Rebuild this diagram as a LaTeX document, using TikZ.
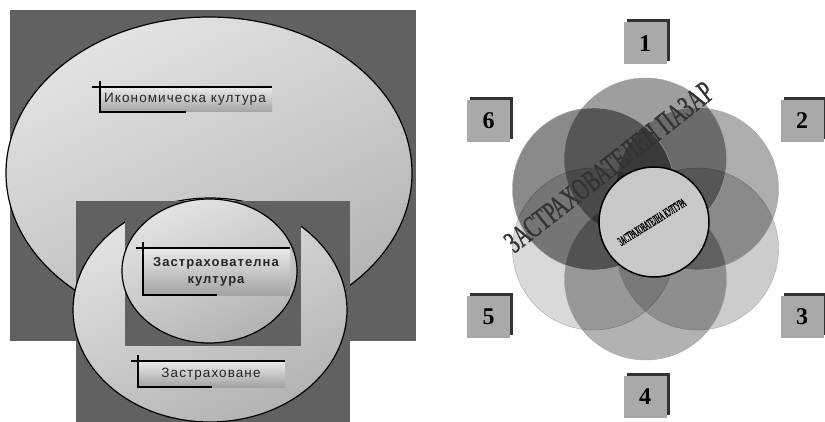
\documentclass[tikz,border=0pt]{standalone}
\usepackage{fontspec}
\setmainfont{Liberation Serif}
\newfontfamily\labelfont[LetterSpace=8]{Liberation Sans}
\newfontfamily\wordart[FakeBold=1.2]{Liberation Serif}
\newfontfamily\hubfont[FakeBold=2]{Liberation Serif}
\usetikzlibrary{shapes.geometric,shadows}
\definecolor{slate}{HTML}{616161}
\definecolor{numgray}{HTML}{A9A9A9}
\definecolor{hubgray}{HTML}{C8C8C8}
\tikzset{
  bubble/.style={ellipse, draw=black, line width=1.2pt, inner sep=0pt,
    top color=black!11, bottom color=black!30, shading angle=25},
  tagfill/.style={top color=black!8, bottom color=black!36},
  tagline/.style={draw=black, line width=1.2pt},
  tagtext/.style={font=\labelfont\fontsize{13.5}{16}\selectfont, text=black!85, inner sep=0pt},
  numbox/.style={fill=numgray, minimum width=43pt, minimum height=42pt, inner sep=0pt,
    font=\bfseries\fontsize{24}{24}\selectfont,
    drop shadow={shadow xshift=3pt, shadow yshift=3pt, opacity=1, fill=black!80}},
  petal/.style={circle, minimum size=162pt, inner sep=0pt, fill=black, draw=black!35, line width=0.4pt},
}
\begin{document}
\begin{tikzpicture}[x=1pt,y=-1pt]
\useasboundingbox (0,0) rectangle (825,422);

% ---- nested cultures ----
\fill[slate] (10,10) rectangle (416,341);
\node[bubble, minimum width=406pt, minimum height=312pt] (eco) at (209,173) {};
\fill[slate] (76,201) rectangle (350,422);
\node[bubble, minimum width=274pt, minimum height=224pt] (ins) at (210,310) {};
\fill[slate] (125,201) rectangle (301,346);
\node[bubble, minimum width=175pt, minimum height=144pt] (cult) at (209.5,271) {};

% label plates
\shade[tagfill] (100,87) rectangle (272,112);
\draw[tagline] (92,87) -- (272,87) (100,81) -- (100,112) -- (186,112);
\node[tagtext] (ecoL) at (185,99.5) {Икономическа култура};

\shade[tagfill] (143,248) rectangle (290,295);
\draw[tagline] (136,248) -- (290,248) (143,242) -- (143,295) -- (217,295);
\node[tagtext, font=\labelfont\bfseries\fontsize{13}{16.5}\selectfont, align=center] (cultL) at (216,272) {Застрахователна\\култура};

\shade[tagfill] (138,361) rectangle (285,387);
\draw[tagline] (131,361) -- (285,361) (138,355) -- (138,387) -- (212,387);
\node[tagtext] (insL) at (211,374) {Застраховане};

% ---- market flower ----
\node[petal, fill opacity=0.15] (p5) at (593.5,249) {};
\node[petal, fill opacity=0.20] (p3) at (697.5,249) {};
\node[petal, fill opacity=0.30] (p4) at (645.5,279) {};
\node[petal, fill opacity=0.32] (p2) at (697.5,189) {};
\node[petal, fill opacity=0.38] (p1) at (645.5,159) {};
\node[petal, fill opacity=0.46] (p6) at (593.5,189) {};

\node[rotate=38, text=black!80, inner sep=0pt] (market) at (609,167)
  {\scalebox{0.64}[1]{\wordart\fontsize{31}{31}\selectfont ЗАСТРАХОВАТЕЛЕН ПАЗАР}};

\node[circle, minimum size=110pt, inner sep=0pt, fill=hubgray, draw=black, line width=1.5pt] (hub) at (654,222) {};
\node[rotate=32, inner sep=0pt] (hubL) at (652,222)
  {\scalebox{0.42}[1]{\hubfont\fontsize{13}{13}\selectfont ЗАСТРАХОВАТЕЛНА КУЛТУРА}};

% numbered plates
\node[numbox] (n1) at (645,43.5) {1};
\node[numbox] (n2) at (802,121) {2};
\node[numbox] (n3) at (802,317) {3};
\node[numbox] (n4) at (645,397) {4};
\node[numbox] (n5) at (488.5,317) {5};
\node[numbox] (n6) at (488.5,121) {6};
\end{tikzpicture}
\end{document}
